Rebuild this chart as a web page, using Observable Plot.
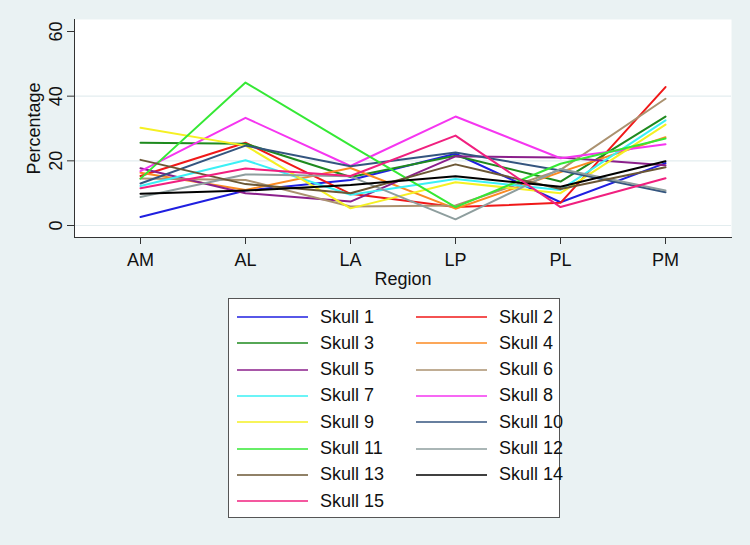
<!DOCTYPE html>
<html>
<head>
<meta charset="utf-8">
<script src="https://cdn.jsdelivr.net/npm/d3@7"></script>
<script src="https://cdn.jsdelivr.net/npm/@observablehq/plot@0.6"></script>
<style>
  html, body { margin: 0; padding: 0; background: #eaf2f3; }
  #wrap { position: relative; width: 750px; height: 545px; background: #eaf2f3; font-family: "Liberation Sans", Arial, sans-serif; }
  #legend { position: absolute; left: 228px; top: 298px; width: 332px; height: 220px; background: #fff; border: 1px solid #555; box-sizing: border-box; }
  .item { position: absolute; height: 26px; display: flex; align-items: center; font-size: 18px; color: #111; white-space: nowrap; }
</style>
</head>
<body>
<div id="wrap"><div id="chart"></div><div id="legend"></div></div>
<script>
const regions = ["AM", "AL", "LA", "LP", "PL", "PM"];
const skulls = ["Skull 1","Skull 2","Skull 3","Skull 4","Skull 5","Skull 6","Skull 7","Skull 8","Skull 9","Skull 10","Skull 11","Skull 12","Skull 13","Skull 14","Skull 15"];
const colors = ["#1f1fe0","#f01818","#1e8a1e","#fb8a22","#8b1f8b","#ab9270","#3af0f5","#f536f0","#f5f023","#34557f","#35e835","#8e9e9e","#6b5735","#000000","#f0207f"];
const skull1  = [2.6, 10.8, 14.1, 22.2, 7.2, 19.3];
const skull2  = [15.3, 25.6, 9.8, 5.7, 7.0, 42.8];
const skull3  = [25.6, 25.3, 15.0, 21.6, 13.6, 33.7];
const skull4  = [16.3, 11.0, 17.8, 5.2, 16.5, 27.3];
const skull5  = [17.7, 10.0, 7.4, 21.4, 21.0, 18.6];
const skull6  = [14.5, 14.1, 5.9, 6.2, 17.2, 39.2];
const skull7  = [12.2, 20.2, 9.5, 14.4, 11.0, 32.5];
const skull8  = [16.8, 33.3, 18.4, 33.7, 20.8, 25.1];
const skull9  = [30.2, 24.7, 5.3, 13.4, 10.0, 31.2];
const skull10 = [13.0, 24.7, 18.3, 22.6, 17.0, 10.3];
const skull11 = [14.5, 44.2, 24.8, 5.7, 19.1, 26.9];
const skull12 = [8.8, 15.8, 15.2, 1.9, 17.5, 10.8];
const skull13 = [20.3, 12.8, 10.0, 18.9, 11.3, 18.0];
const skull14 = [9.8, 10.8, 12.5, 15.2, 12.0, 19.9];
const skull15 = [11.5, 17.6, 15.3, 27.8, 5.7, 14.6];
const series = [skull1,skull2,skull3,skull4,skull5,skull6,skull7,skull8,skull9,skull10,skull11,skull12,skull13,skull14,skull15];
const yTicks = [0, 20, 40, 60];
const xTitle = "Region";
const yTitle = "Percentage";

const rows = [];
series.forEach((vals, i) => vals.forEach((v, j) => rows.push({skull: skulls[i], region: regions[j], value: v})));

const font = "Liberation Sans, Arial, sans-serif";
const chart = Plot.plot({
  width: 750,
  height: 290,
  marginLeft: 74,
  marginRight: 19,
  marginTop: 19,
  marginBottom: 53,
  style: {background: "transparent", fontFamily: font},
  x: {type: "point", domain: regions, insetLeft: 12, insetRight: 12},
  y: {domain: [0, 60], insetTop: 12, insetBottom: 12},
  color: {domain: skulls, range: colors},
  marks: [
    Plot.frame({fill: "white", stroke: null}),
    Plot.gridY([0, 20, 40], {stroke: "#e3edef", strokeOpacity: 1, strokeWidth: 1.2}),
    Plot.line(rows, {x: "region", y: "value", z: "skull", stroke: "skull", strokeWidth: 2}),
    Plot.frame({anchor: "bottom", stroke: "#333", strokeWidth: 1}),
    Plot.frame({anchor: "left", stroke: "#333", strokeWidth: 1}),
    Plot.axisX({tickSize: 7, tickPadding: 9, fontSize: 18, fill: "#111", stroke: "#333", label: null}),
    Plot.axisY(yTicks, {tickSize: 7, tickPadding: 6, fontSize: 18, fill: "#111", stroke: "#333", tickRotate: -90, label: null}),
    Plot.text([xTitle], {frameAnchor: "bottom", dy: 42, lineAnchor: "middle", textAnchor: "middle", fontSize: 18, fill: "#111"}),
    Plot.text([yTitle], {frameAnchor: "left", dx: -40, rotate: -90, lineAnchor: "middle", textAnchor: "middle", fontSize: 18, fill: "#111"})
  ]
});
document.getElementById("chart").appendChild(chart);

const legend = d3.select("#legend");
skulls.forEach((s, i) => {
  const col = i % 2, row = Math.floor(i / 2);
  const item = legend.append("div").attr("class", "item")
    .style("left", (col === 0 ? 8 : 187) + "px")
    .style("top", (5 + row * 26.3) + "px");
  const svg = item.append("svg").attr("width", 71).attr("height", 6).style("margin-right", "12px");
  svg.append("line").attr("x1", 0).attr("x2", 71).attr("y1", 3).attr("y2", 3)
    .attr("stroke", colors[i]).attr("stroke-width", 1.6);
  item.append("span").text(s);
});
</script>
</body>
</html>
